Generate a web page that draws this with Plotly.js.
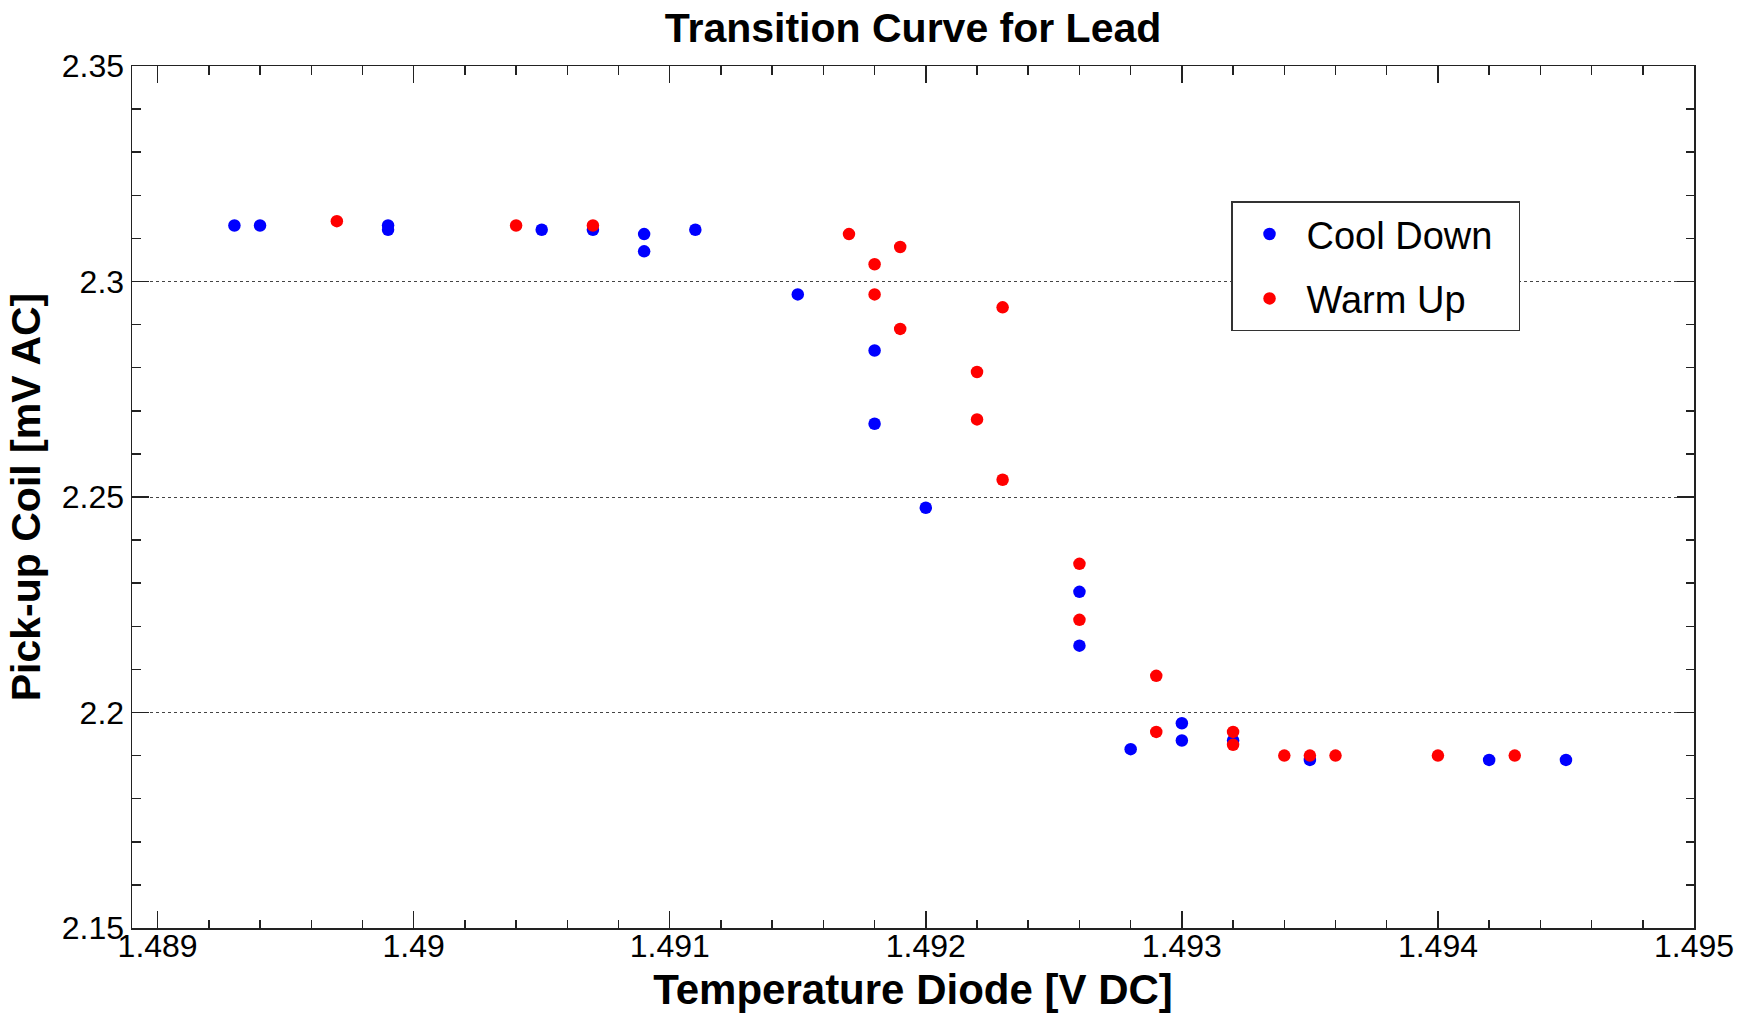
<!DOCTYPE html>
<html>
<head>
<meta charset="utf-8">
<script src="https://cdn.plot.ly/plotly-3.0.1.min.js"></script>
<style>html,body{margin:0;padding:0;background:#fff;}#chart{width:1753px;height:1013px;}</style>
</head>
<body>
<div id="chart"></div>
<script>
// Cool Down series
const coolX = [1.4893, 1.4894, 1.4899, 1.4899, 1.4905, 1.4907, 1.4909, 1.4909, 1.4911, 1.4915, 1.4918, 1.4918, 1.4920, 1.4926, 1.4926, 1.4928, 1.4930, 1.4930, 1.4932, 1.4935, 1.4942, 1.4945];
const coolY = [2.313, 2.313, 2.313, 2.312, 2.312, 2.312, 2.311, 2.307, 2.312, 2.297, 2.284, 2.267, 2.2475, 2.228, 2.2155, 2.1915, 2.1975, 2.1935, 2.1935, 2.189, 2.189, 2.189];
// Warm Up series
const warmX = [1.4897, 1.4904, 1.4907, 1.4917, 1.4918, 1.4918, 1.4919, 1.4919, 1.4922, 1.4922, 1.4923, 1.4923, 1.4926, 1.4926, 1.4929, 1.4929, 1.4932, 1.4932, 1.4934, 1.4935, 1.4936, 1.4940, 1.4943];
const warmY = [2.314, 2.313, 2.313, 2.311, 2.304, 2.297, 2.308, 2.289, 2.279, 2.268, 2.294, 2.254, 2.2345, 2.2215, 2.2085, 2.1955, 2.1955, 2.1925, 2.190, 2.190, 2.190, 2.190, 2.190];
// Tick labels
const xTickVals = [1.489, 1.490, 1.491, 1.492, 1.493, 1.494, 1.495];
const xTickText = ["1.489", "1.49", "1.491", "1.492", "1.493", "1.494", "1.495"];
const yTickVals = [2.15, 2.20, 2.25, 2.30, 2.35];
const yTickText = ["2.15", "2.2", "2.25", "2.3", "2.35"];

const FONT = "'Liberation Sans', Arial, Helvetica, sans-serif";

const traces = [
  {x: coolX, y: coolY, type: 'scatter', mode: 'markers', name: 'Cool Down\u00A0\u00A0', legendgroup: 'a',
   marker: {color: '#0000ff', size: 12.5}},
  {x: warmX, y: warmY, type: 'scatter', mode: 'markers', name: 'Warm Up', legendgroup: 'b',
   marker: {color: '#ff0000', size: 12.5}}
];

const axisCommon = {
  showline: true, linecolor: '#222', linewidth: 1.5, mirror: 'ticks',
  ticks: 'inside', ticklen: 17, tickwidth: 1.5, tickcolor: '#222',
  zeroline: false,
  tickfont: {family: FONT, size: 32, color: '#000'}
};

const layout = {
  width: 1753, height: 1013,
  paper_bgcolor: '#fff', plot_bgcolor: '#fff',
  margin: {l: 132, r: 59, t: 66, b: 85},
  title: {text: '<b>Transition Curve for Lead</b>', font: {family: FONT, size: 41, color: '#000'},
          xref: 'paper', x: 0.5, xanchor: 'center', y: 0.973, yanchor: 'middle'},
  showlegend: true,
  legend: {x: 0.7036, y: 0.843, xanchor: 'left', yanchor: 'top',
           bgcolor: '#fff', bordercolor: '#333', borderwidth: 1.5,
           font: {family: FONT, size: 38, color: '#000'},
           traceorder: 'grouped', tracegroupgap: 12, itemwidth: 64},
  xaxis: Object.assign({}, axisCommon, {
    range: [1.4889, 1.495], tickvals: xTickVals, ticktext: xTickText,
    showgrid: false, ticklabelstandoff: -11,
    minor: {dtick: 0.0002, tick0: 1.489, ticks: 'inside', ticklen: 8.5, tickwidth: 1.5, tickcolor: '#222', showgrid: false},
    title: {text: '<b>Temperature Diode [V DC]</b>', font: {family: FONT, size: 42, color: '#000'}, standoff: 18}
  }),
  yaxis: Object.assign({}, axisCommon, {
    range: [2.15, 2.35], tickvals: yTickVals, ticktext: yTickText,
    showgrid: true, gridcolor: '#444', gridwidth: 1, griddash: 'dot',
    minor: {dtick: 0.01, tick0: 2.15, ticks: 'inside', ticklen: 8.5, tickwidth: 1.5, tickcolor: '#222', showgrid: false},
    title: {text: '<b>Pick-up Coil [mV AC]</b>', font: {family: FONT, size: 41, color: '#000'}, standoff: 8}
  })
};

Plotly.newPlot('chart', traces, layout, {displayModeBar: false, staticPlot: true});
</script>
</body>
</html>
